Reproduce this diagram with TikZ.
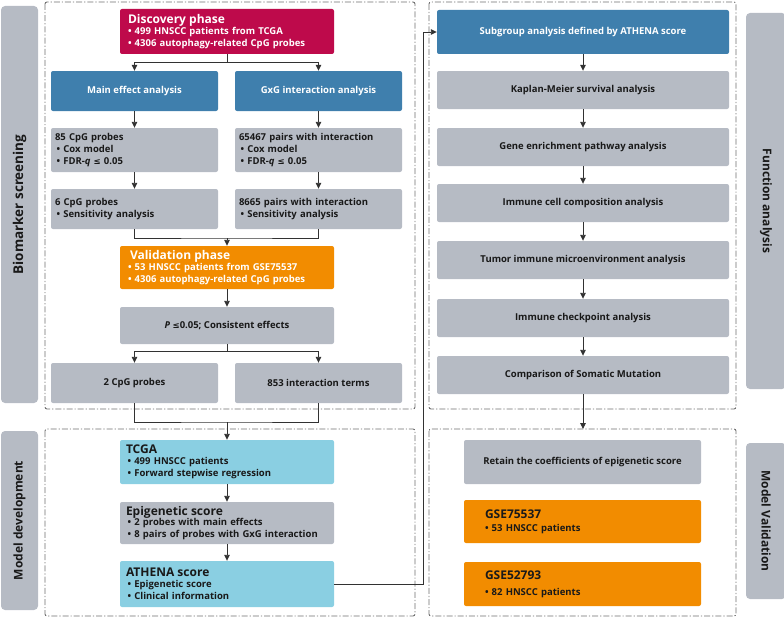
\documentclass[tikz,border=0pt]{standalone}
\usepackage{fontspec}
\setmainfont{Open Sans}
\newfontfamily\symf{DejaVu Sans}
\usetikzlibrary{arrows.meta}
\definecolor{crim}{RGB}{190,10,75}
\definecolor{sblue}{RGB}{63,127,173}
\definecolor{lgray}{RGB}{182,187,196}
\definecolor{orng}{RGB}{242,140,0}
\definecolor{lblue}{RGB}{138,207,226}
\definecolor{txt}{RGB}{25,25,25}
\definecolor{lin}{RGB}{50,50,50}
\definecolor{dsh}{RGB}{110,110,110}
\newcommand{\tle}{\fontsize{12}{14}\selectfont}
\newcommand{\lesq}{{\symf\fontsize{8.5}{10}\selectfont ≤}}
\tikzset{
  box/.style={rounded corners=2pt, inner ysep=0pt, inner xsep=0pt, font=\bfseries\fontsize{9.5}{11.8}\selectfont, text=txt, align=center},
  lbox/.style={box, align=left},
  bar/.style={rounded corners=4pt, fill=lgray, inner sep=0pt},
  bartext/.style={font=\bfseries\fontsize{12}{14}\selectfont, text=txt},
  area/.style={draw=dsh, line width=0.9pt, dash pattern=on 6pt off 2pt on 1.2pt off 2pt, rounded corners=2pt},
  conn/.style={draw=lin, line width=0.9pt},
  arr/.style={conn, -{Triangle[length=6pt,width=5.5pt]}}
}
\begin{document}
\begin{tikzpicture}[x=1pt,y=-1pt]
\useasboundingbox (0,0) rectangle (784,618);
% dashed areas
\draw[area] (45,2) rectangle (415,409);
\draw[area] (45,429) rectangle (415,616);
\draw[area] (429,2) rectangle (736,409);
\draw[area] (429,429) rectangle (736,616);
% side bars
\node[bar, minimum width=37pt, minimum height=397pt] (bio) at (19.5,204.5) {};
\node[bartext, font=\bfseries\fontsize{13.5}{15}\selectfont, rotate=90] (biot) at (bio.center) {Biomarker screening};
\node[bar, minimum width=37pt, minimum height=179pt] (dev) at (19.5,520.5) {};
\node[bartext, rotate=90] (devt) at (dev.center) {Model development};
\node[bar, minimum width=40pt, minimum height=376pt] (fun) at (766,201) {};
\node[bartext, rotate=-90] (funt) at (fun.center) {Function analysis};
\node[bar, minimum width=40pt, minimum height=156pt] (mval) at (766,521) {};
\node[bartext, rotate=-90] (mvalt) at (mval.center) {Model Validation};
% left column
\node[lbox, fill=crim, text=white, minimum height=45pt, inner xsep=8pt, text width=198pt] (disc) at (227,31.5)
  {{\tle Discovery phase}\\[-1pt] • 499 HNSCC patients from TCGA\\ • 4306 autophagy-related CpG probes};
\node[box, fill=sblue, text=white, minimum width=167pt, minimum height=40pt] (main) at (134.5,91) {Main effect analysis};
\node[box, fill=sblue, text=white, minimum width=167pt, minimum height=40pt] (gxg) at (318.5,91) {GxG interaction analysis};
\node[lbox, fill=lgray, minimum height=44pt, inner xsep=4pt, text width=159pt] (p85) at (134.5,150)
  {85 CpG probes\\ \,• Cox model\\ \,• FDR-\textit{q} \lesq\ 0.05};
\node[lbox, fill=lgray, minimum height=44pt, inner xsep=4pt, text width=159pt] (p65) at (318.5,150)
  {65467 pairs with interaction\\ \,• Cox model\\ \,• FDR-\textit{q} \lesq\ 0.05};
\node[lbox, fill=lgray, minimum height=40pt, inner xsep=4pt, text width=159pt] (p6) at (134.5,209)
  {6 CpG probes\\ \,• Sensitivity analysis};
\node[lbox, fill=lgray, minimum height=40pt, inner xsep=4pt, text width=159pt] (p8665) at (318.5,209)
  {8665 pairs with interaction\\ \,• Sensitivity analysis};
\node[lbox, fill=orng, text=white, minimum height=43pt, inner xsep=8pt, text width=198pt] (valid) at (227,267.5)
  {{\tle\,Validation phase}\\[-1pt] • 53 HNSCC patients from GSE75537\\ • 4306 autophagy-related CpG probes};
\node[box, fill=lgray, minimum width=214pt, minimum height=37pt] (pcons) at (227,325.5)
  {\textit{P} \lesq0.05; Consistent effects};
\node[box, fill=lgray, minimum width=167pt, minimum height=40pt] (c2) at (134.5,383) {2 CpG probes};
\node[box, fill=lgray, minimum width=167pt, minimum height=40pt] (c853) at (318.5,383) {853 interaction terms};
\node[lbox, fill=lblue, minimum height=44pt, inner xsep=6pt, text width=202pt] (tcga) at (227,462)
  {{\tle TCGA}\\[-1pt] \,• 499 HNSCC patients\\ \,• Forward stepwise regression};
\node[lbox, fill=lgray, minimum height=42pt, inner xsep=6pt, text width=202pt] (epi) at (227,523)
  {{\tle Epigenetic score}\\[-1pt] \,• 2 probes with main effects\\ \,• 8 pairs of probes with GxG interaction};
\node[lbox, fill=lblue, minimum height=46pt, inner xsep=6pt, text width=202pt] (ath) at (227,584)
  {{\tle ATHENA score}\\[-1pt] \,• Epigenetic score\\ \,• Clinical information};
% right column
\node[box, fill=sblue, text=white, minimum width=292pt, minimum height=44pt] (sub) at (583,32) {Subgroup analysis defined by ATHENA score};
\node[box, fill=lgray, minimum width=292pt, minimum height=38pt] (km) at (583,90) {Kaplan-Meier survival analysis};
\node[box, fill=lgray, minimum width=292pt, minimum height=38pt] (gene) at (583,147) {Gene enrichment pathway analysis};
\node[box, fill=lgray, minimum width=292pt, minimum height=38pt] (icell) at (583,203) {Immune cell composition analysis};
\node[box, fill=lgray, minimum width=292pt, minimum height=38pt] (tumor) at (583,260) {Tumor immune microenvironment analysis};
\node[box, fill=lgray, minimum width=292pt, minimum height=38pt] (chk) at (583,318) {Immune checkpoint analysis};
\node[box, fill=lgray, minimum width=292pt, minimum height=38pt] (comp) at (583,375) {Comparison of Somatic Mutation};
\node[box, fill=lgray, minimum width=237pt, minimum height=44pt] (ret) at (582.5,462) {Retain the coefficients of epigenetic score};
\node[lbox, fill=orng, minimum height=43pt, inner xsep=21pt, text width=195pt] (gse1) at (582.5,521.5)
  {{\tle GSE75537}\\[1pt] • 53 HNSCC patients};
\node[lbox, fill=orng, minimum height=44pt, inner xsep=21pt, text width=195pt] (gse2) at (582.5,584)
  {{\tle GSE52793}\\[4pt] • 82 HNSCC patients};
% connectors
\coordinate (j1) at (227,62);
\draw[conn] (disc.south) -- (j1);
\draw[arr] (j1) -| (main.north);
\draw[arr] (j1) -| (gxg.north);
\draw[arr] (main) -- (p85);
\draw[arr] (p85) -- (p6);
\draw[arr] (gxg) -- (p65);
\draw[arr] (p65) -- (p8665);
\coordinate (j2) at (227,238);
\draw[conn] (p6.south) |- (j2) -| (p8665.south);
\draw[arr] (j2) -- (valid.north);
\draw[arr] (valid) -- (pcons);
\coordinate (j3) at (227,351);
\draw[conn] (pcons.south) -- (j3);
\draw[arr] (j3) -| (c2.north);
\draw[arr] (j3) -| (c853.north);
\coordinate (j4) at (227,422);
\draw[conn] (c2.south) |- (j4) -| (c853.south);
\draw[arr] (j4) -- (tcga.north);
\draw[arr] (tcga) -- (epi);
\draw[arr] (epi) -- (ath);
\coordinate (bend) at (423,32);
\draw[arr] (ath.east) -| (bend) -- (sub.west);
\draw[arr] (sub) -- (km);
\draw[arr] (km) -- (gene);
\draw[arr] (gene) -- (icell);
\draw[arr] (icell) -- (tumor);
\draw[arr] (tumor) -- (chk);
\draw[arr] (chk) -- (comp);
\coordinate (rtop) at (583,429);
\draw[arr] (comp.south) -- (rtop);
\end{tikzpicture}
\end{document}
